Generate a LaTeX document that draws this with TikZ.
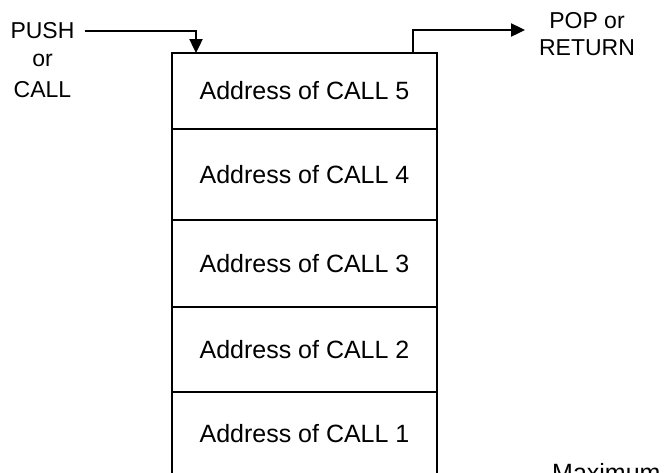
\documentclass[tikz,border=0pt]{standalone}
\usepackage{fontspec}
\setmainfont{Liberation Sans}
\usetikzlibrary{arrows.meta}
\begin{document}
\begin{tikzpicture}[
    x=1pt, y=-1pt,
    font=\fontsize{23}{28}\selectfont,
    flow/.style={-{Triangle[length=14pt,width=13pt]}, line width=2.4pt},
    cell/.style={draw, line width=2.6pt, minimum width=265pt, inner sep=0pt,
                 font=\fontsize{25}{30}\selectfont},
    tag/.style={inner sep=0pt},
]
\useasboundingbox (0,0) rectangle (664,472);
\clip (0,0) rectangle (664,472);

% Stack cells (top is the latest call)
\node[cell, minimum height=76pt] (c5) at (304.5,91) {Address of CALL 5};
\node[cell, minimum height=91pt] (c4) at (304.5,174.5) {Address of CALL 4};
\node[cell, minimum height=87pt] (c3) at (304.5,263.5) {Address of CALL 3};
\node[cell, minimum height=85pt] (c2) at (304.5,349.5) {Address of CALL 2};
\node[cell, minimum height=84pt] (c1) at (304.5,434) {Address of CALL 1};

% Push side
\node[tag] (push) at (42.5,31) {PUSH};
\node[tag] (or) at (42.5,60) {or};
\node[tag] (call) at (42.5,89.5) {CALL};
\coordinate (pushin) at (196,53);
\draw[flow] ([xshift=10pt]push.east) -| (pushin);

% Pop side
\node[tag] (pop) at (587,21) {POP or};
\node[tag] (ret) at (587,48) {RETURN};
\coordinate (popout) at (413,53);
\coordinate (popend) at (525,30);
\draw[flow] (popout) |- (popend);

% Cut-off note
\node[tag, anchor=north west, font=\fontsize{25}{30}\selectfont] (max) at (552,463) {Maximum};

\end{tikzpicture}
\end{document}
